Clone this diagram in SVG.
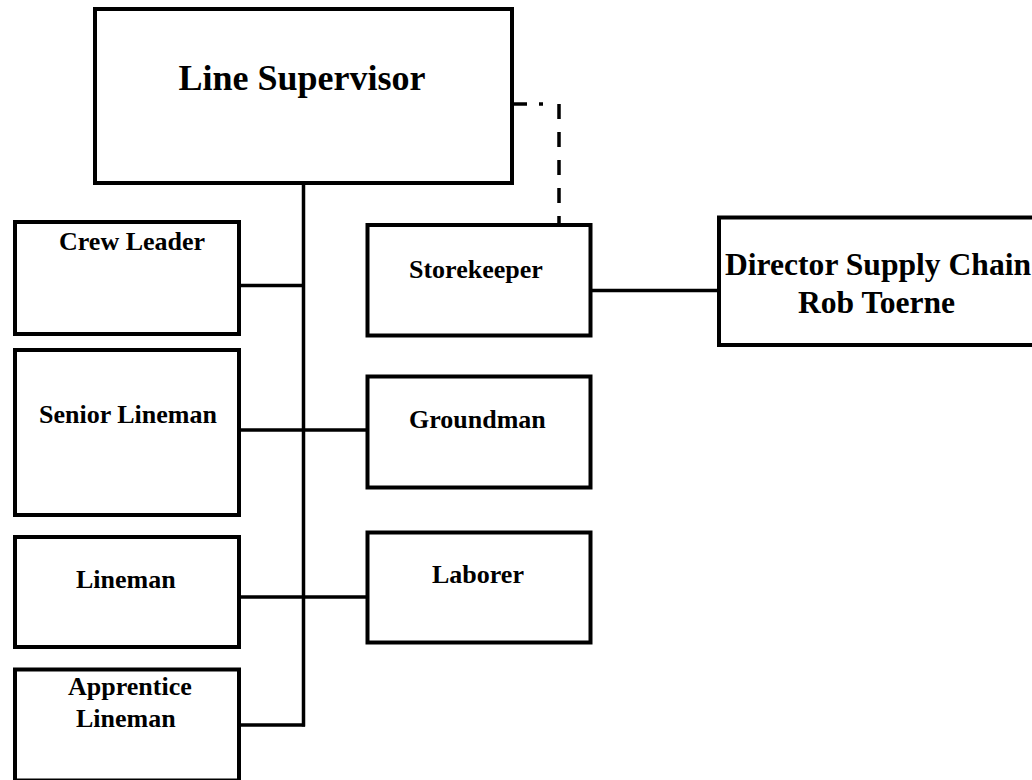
<svg xmlns="http://www.w3.org/2000/svg" width="1032" height="780" viewBox="0 0 1032 780">
<style>
.box{fill:#fff;stroke:#000;stroke-width:4}
.t{font-family:"Liberation Serif","Times New Roman",serif;font-weight:bold;font-size:26px;fill:#000}
.ln{stroke:#000;stroke-width:3.5;fill:none}
</style>
<rect width="1032" height="780" fill="#fff"/>
<g id="connectors">
<line class="ln" x1="303.5" y1="183" x2="303.5" y2="726.5"/>
<line class="ln" x1="239" y1="285.5" x2="305" y2="285.5"/>
<line class="ln" x1="239" y1="430" x2="367.5" y2="430"/>
<line class="ln" x1="239" y1="597" x2="367.5" y2="597"/>
<line class="ln" x1="239" y1="725" x2="305" y2="725"/>
<line class="ln" x1="590.5" y1="290.5" x2="719" y2="290.5"/>
<line class="ln" x1="512" y1="104" x2="527" y2="104"/>
<line class="ln" x1="539" y1="104" x2="543" y2="104"/>
<line class="ln" x1="559" y1="104" x2="559" y2="225" stroke-dasharray="15 13"/>
</g>
<g id="line-supervisor">
<rect class="box" x="95" y="9" width="417" height="174"/>
<text class="t" x="302" y="90" text-anchor="middle" style="font-size:36px">Line Supervisor</text>
</g>
<g id="crew-leader">
<rect class="box" x="15" y="222" width="224" height="112"/>
<text class="t" x="59" y="250">Crew Leader</text>
</g>
<g id="senior-lineman">
<rect class="box" x="15" y="350" width="224" height="165"/>
<text class="t" x="39" y="423">Senior Lineman</text>
</g>
<g id="lineman">
<rect class="box" x="15" y="537" width="224" height="110"/>
<text class="t" x="76" y="588">Lineman</text>
</g>
<g id="apprentice-lineman">
<rect class="box" x="15" y="669.5" width="224" height="111"/>
<text class="t" x="68" y="695">Apprentice</text>
<text class="t" x="76" y="727">Lineman</text>
</g>
<g id="storekeeper">
<rect class="box" x="367.5" y="225" width="223" height="110.5"/>
<text class="t" x="409" y="278">Storekeeper</text>
</g>
<g id="groundman">
<rect class="box" x="367.5" y="376.5" width="223" height="111"/>
<text class="t" x="409" y="428">Groundman</text>
</g>
<g id="laborer">
<rect class="box" x="367.5" y="532.5" width="223" height="110"/>
<text class="t" x="432" y="583">Laborer</text>
</g>
<g id="director-supply-chain">
<rect class="box" x="719" y="217.5" width="400" height="127.5"/>
<text class="t" x="725" y="275" style="font-size:31.6px">Director Supply Chain</text>
<text class="t" x="798" y="313" style="font-size:31.6px">Rob Toerne</text>
</g>
</svg>
